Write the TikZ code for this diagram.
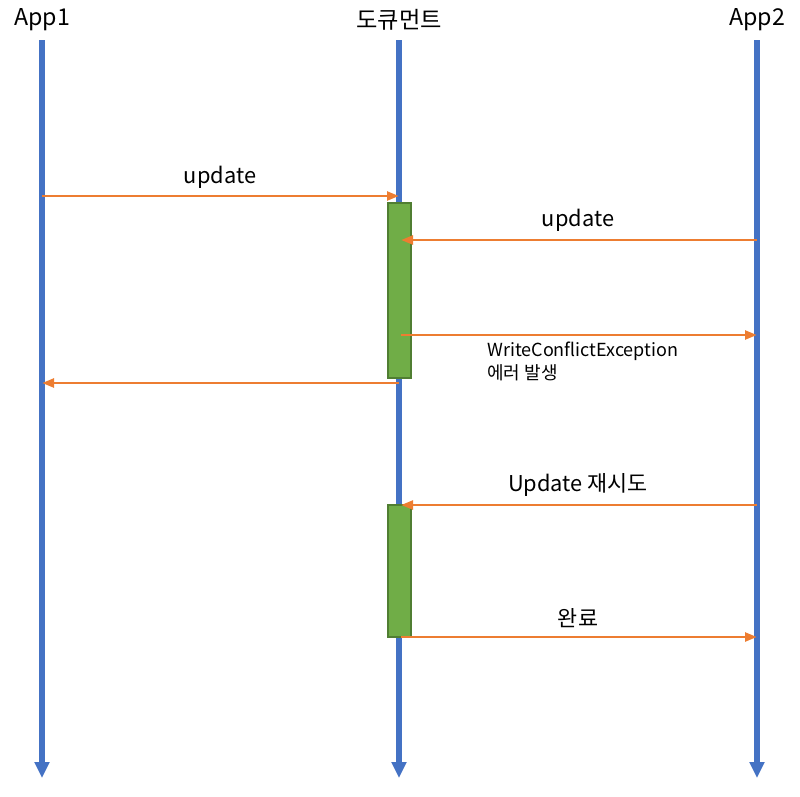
\documentclass[tikz,border=0pt]{standalone}
\usepackage{fontspec}
\setmainfont{Noto Sans CJK KR}
\usetikzlibrary{arrows.meta}
\definecolor{lifeblue}{HTML}{4472C4}
\definecolor{msgorange}{HTML}{ED7D31}
\definecolor{actgreen}{HTML}{70AD47}
\definecolor{actborder}{HTML}{507E32}

\begin{document}
\begin{tikzpicture}[
  x=0.025cm,
  y=-0.025cm,
  lifeline/.style={
  	-{Triangle[length=0.4cm,width=0.36cm]},
  	line width=3.6pt,
  	draw=lifeblue,
  	fill=lifeblue
  },
  message/.style={
  	-{Triangle[length=0.3cm,width=0.22cm]},
  	line width=2pt,
  	draw=msgorange,
  	fill=msgorange
  },
  actbox/.style={
  	draw=actborder,
  	fill=actgreen,
  	line width=1pt
  },
  header/.style={
  	font=\fontsize{16.5}{20}\selectfont
  },
  msglabel/.style={
  	font=\fontsize{15.5}{19}\selectfont
  }
  ]
  \useasboundingbox (0,0) rectangle (800,796);

  \foreach \x/\l/\n in {42/App1/a,399/도큐먼트/d,757/App2/b}
  {
  \node[header] (h\n) at (\x,20) {\l};
  \coordinate (top\n) at (\x,40);
  \coordinate (bot\n) at (\x,778);
  \draw[lifeline] (top\n) -- (bot\n);
  }

  \draw[actbox] (388,203) rectangle (411,378);
  \draw[actbox] (388,505) rectangle (411,637);

  \coordinate (a1) at (42,196);
  \coordinate (d1) at (399,196);
  \coordinate (b2) at (757,240);
  \coordinate (d2) at (401,240);
  \coordinate (d3) at (401,335);
  \coordinate (b3) at (757,335);
  \coordinate (d4) at (399,383);
  \coordinate (a4) at (42,383);
  \coordinate (b5) at (757,505);
  \coordinate (d5) at (401,505);
  \coordinate (d6) at (401,637);
  \coordinate (b6) at (757,637);

  \draw[message] (a1) -- (d1);
  \draw[message] (b2) -- (d2);
  \draw[message] (d3) -- (b3);
  \draw[message] (d4) -- (a4);
  \draw[message] (b5) -- (d5);
  \draw[message] (d6) -- (b6);

  \node[msglabel] (l1) at (220,177) {update};
  \node[msglabel] (l2) at (578,220) {update};
  \node[font=\fontsize{12.8}{16}\selectfont,align=left,anchor=north west,inner sep=0pt] (l3) at (487,342) {WriteConflictException\\에러 발생};
  \node[msglabel] (l5) at (578,485) {Update 재시도};
  \node[msglabel] (l6) at (578,618) {완료};

  \end{tikzpicture}
\end{document}
